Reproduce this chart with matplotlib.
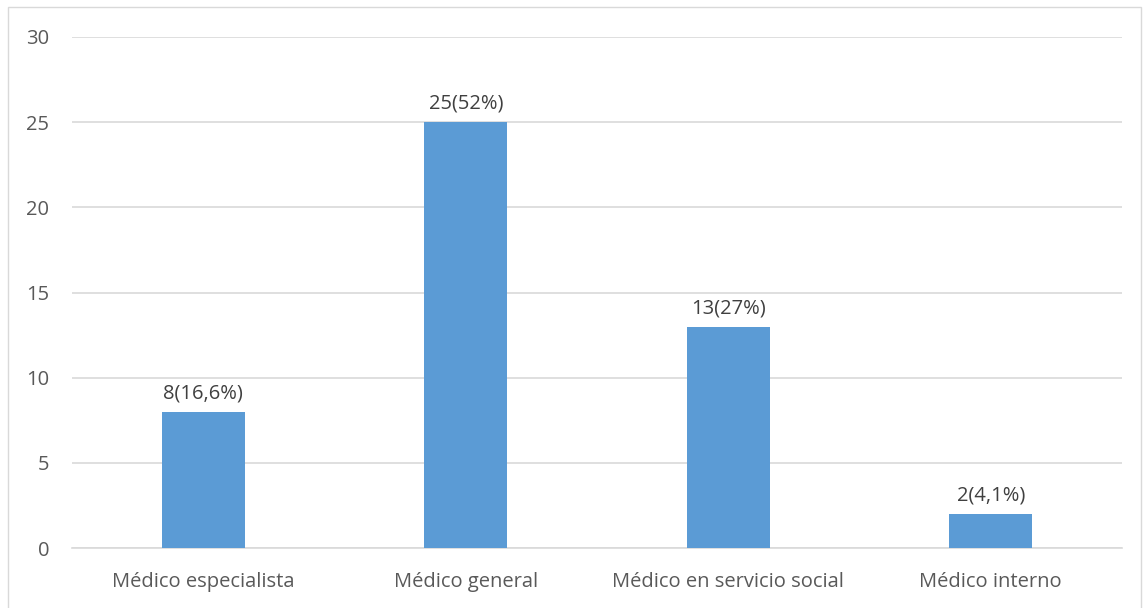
import matplotlib.pyplot as plt
from matplotlib.patches import Rectangle

categorias = ["Médico especialista", "Médico general", "Médico en servicio social", "Médico interno"]
valores = [8, 25, 13, 2]
etiquetas = ["8(16,6%)", "25(52%)", "13(27%)", "2(4,1%)"]

plt.rcParams['font.family'] = ['Open Sans', 'DejaVu Sans']
gris = '#595959'

W, H = 1144, 608
fig = plt.figure(figsize=(W / 100, H / 100), dpi=100)
ax = fig.add_axes([72 / W, 1 - 548 / H, (1122 - 72) / W, (548 - 37) / H])

# marco exterior del grafico
fig.patches.append(Rectangle((8 / W, -0.01), (1141 - 8) / W, 1 - 7 / H + 0.01,
                             transform=fig.transFigure, fill=False,
                             edgecolor='#d9d9d9', linewidth=1))

x = range(len(categorias))
barras = ax.bar(x, valores, width=0.316, color='#5b9bd5', zorder=3)
for b, txt in zip(barras, etiquetas):
    ax.annotate(txt, (b.get_x() + b.get_width() / 2, b.get_height()),
                xytext=(0, 6), textcoords='offset points', ha='center', va='bottom',
                fontsize=14.5, color='#404040')

ax.set_xlim(-0.5, 3.5)
ax.set_ylim(0, 30)
ax.set_yticks([0, 5, 10, 15, 20, 25, 30])
ax.set_xticks(list(x))
ax.set_xticklabels(categorias)
ax.yaxis.grid(True, color='#d9d9d9', linewidth=1.2, zorder=0)
for s in ['top', 'right', 'left']:
    ax.spines[s].set_visible(False)
ax.spines['bottom'].set_color('#d9d9d9')
ax.spines['bottom'].set_linewidth(1.2)
ax.tick_params(axis='both', length=0, labelsize=14.5, colors=gris)
ax.tick_params(axis='y', pad=16.5)
ax.tick_params(axis='x', pad=17)

plt.savefig("out.png", dpi=100)
plt.close()
